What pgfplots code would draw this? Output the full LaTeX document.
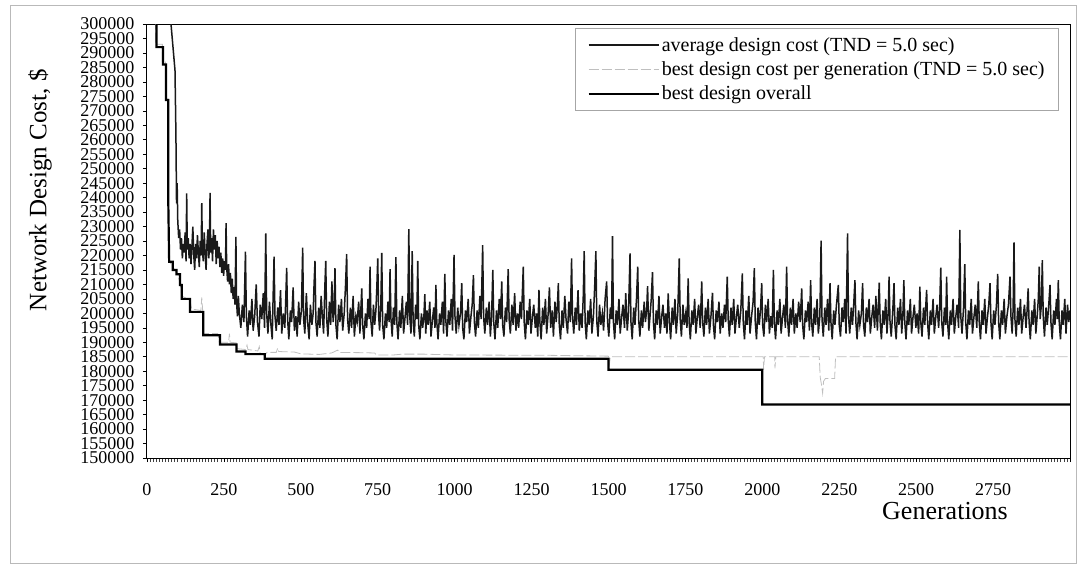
\documentclass[border=0pt]{standalone}
\usepackage{fontspec}
\setmainfont{Liberation Serif}
\usepackage{pgfplots}
\pgfplotsset{compat=1.18}
\begin{document}
\begin{tikzpicture}
\path (-147pt,-108pt) rectangle (930pt,458pt);
\draw[gray!55, line width=0.8pt] (-137pt,-105pt) rectangle (929pt,453pt);
\begin{axis}[
  at={(0,0)}, anchor=south west,
  scale only axis, width=923pt, height=434pt,
  xmin=0, xmax=3000, ymin=150000, ymax=300000,
  xtick={0,250,500,750,1000,1250,1500,1750,2000,2250,2500,2750,3000},
  xticklabels={0,250,500,750,1000,1250,1500,1750,2000,2250,2500,2750,{}},
  minor x tick num=24,
  ytick distance=5000,
  scaled y ticks=false, scaled x ticks=false,
  tick align=outside,
  major tick length=4pt, minor tick length=4pt,
  major tick style={black, line width=0.6pt},
  minor tick style={black!75, line width=0.6pt},
  xtick pos=bottom, ytick pos=left,
  axis line style={black, line width=1pt},
  /pgf/number format/.cd, fixed, 1000 sep={}, assume math mode=true,
  /pgfplots/.cd,
  tick label style={font=\fontsize{18}{18}\selectfont},
  xticklabel style={yshift=-18pt},
  yticklabel style={xshift=-5pt},
  xlabel={Generations},
  ylabel={Network Design Cost, \$},
  xlabel style={at={(rel axis cs:0.8646,-0.122)}, anchor=center, font=\fontsize{26}{26}\selectfont},
  ylabel style={at={(rel axis cs:-0.116,0.617)}, anchor=center, rotate=0, font=\fontsize{25}{25}\selectfont},
  legend style={at={(0.988,0.991)}, anchor=north east, draw=gray!70, line width=0.6pt,
    font=\fontsize{20}{22}\selectfont, inner xsep=12pt, inner ysep=7pt, row sep=5pt},
  legend cell align=left,
  legend image code/.code={\draw[#1] (0pt,0pt) -- (70pt,0pt);},
]
\addplot[black!90, line width=1.5pt] coordinates {
(0,330000)(68,330000)(78,300000)(91,284000)(94,262000)(96,238000)(98,245000)(100,232000)(103,226000)(106,229000)(109,222000)(112,226000)(115,219000)(118,224000)(121,221000)(124,228000)(127,218000)(129,241500)(131,222000)(134,226000)(137,219000)(140,224000)(143,217000)(146,223000)(149,230000)(152,220000)(155,215000)(158,224000)(161,219000)(164,227000)(167,221000)(170,216000)(173,225000)(176,220000)(178,238100)(180,222000)(183,218000)(186,228000)(189,221000)(192,215000)(195,224000)(198,229000)(201,219000)(203,224000)(205,241600)(207,221000)(210,226000)(213,218000)(216,229000)(219,222000)(222,227000)(225,217000)(228,225000)(231,219000)(234,223000)(237,216000)(240,221000)(243,214000)(246,219000)(249,213000)(252,218000)(255,215000)(257,231200)(259,216000)(262,211000)(265,217000)(268,210000)(271,214000)(274,207000)(277,212000)(280,205000)(283,209000)(286,203000)(289,226400)(291,204000)(294,199000)(297,206000)
(300,200000)(305,195000)(310,203000)(315,197000)(320,221300)(323,199000)(327,192000)(332,201000)(336,196000)(341,205000)(345,194000)(350,199000)(355,210000)(359,197000)(364,192000)(368,203000)(373,198000)(378,207000)(382,195000)(386,227600)(389,200000)(393,193000)(398,204000)(402,197000)(407,191000)(410,206000)(413,219600)(416,199000)(420,194000)(425,202000)(429,196000)(434,208000)(438,193000)(443,200000)(448,195000)(451,205000)(454,215700)(457,198000)(461,191000)(466,201000)(470,197000)(475,209000)(479,194000)(484,199000)(488,192000)(493,204000)(497,196000)
(502,201000)(506,222700)(509,198000)(513,193000)(518,207000)(522,197000)(527,191000)(531,203000)(536,196000)(540,200000)(543,210000)(546,218100)(549,197000)(553,192000)(558,202000)(562,195000)(566,206000)(570,199000)(574,193000)(578,209000)(581,218100)(584,198000)(588,192000)(593,204000)(597,196000)(601,211000)(605,197000)(608,201000)(611,215600)(614,196000)(618,191000)(623,203000)(627,197000)(632,205000)(636,194000)(641,200000)(645,209000)(649,220500)(652,198000)(656,193000)(661,202000)(665,195000)(670,206000)(674,192000)(679,199000)(683,197000)(688,204000)(692,193000)(695,201000)(698,208600)
(701,196000)(705,191000)(710,200000)(714,195000)(718,205000)(722,198000)(725,216100)(728,197000)(732,192000)(736,203000)(740,196000)(744,201000)(747,209000)(750,219000)(753,199000)(756,194000)(760,203000)(763,220900)(766,196000)(770,191000)(775,200000)(779,195000)(783,204000)(787,197000)(790,215300)(793,198000)(797,192000)(801,202000)(805,196000)(809,219400)(812,197000)(816,191000)(821,201000)(825,195000)(830,206000)(834,193000)(839,199000)(843,204000)(847,196000)(851,229100)(854,199000)(858,193000)(862,221500)(865,197000)(869,192000)(873,203000)(877,198000)(880,218100)(883,196000)(887,191000)(892,200000)(896,195000)(900,199000)
(903,206600)(906,193000)(910,201000)(914,196000)(919,204000)(923,192000)(928,198000)(932,202000)(936,195000)(939,209800)(942,197000)(946,191000)(951,200000)(955,196000)(960,204000)(964,193000)(968,213600)(971,198000)(975,192000)(980,201000)(984,196000)(989,205000)(993,194000)(998,220200)(1001,199000)(1005,193000)(1010,202000)(1014,196000)(1019,200000)(1023,210400)(1026,195000)(1030,191000)(1035,201000)(1039,197000)(1044,205000)(1048,193000)(1053,199000)(1057,203000)(1061,213200)(1064,197000)(1068,192000)(1073,201000)(1077,195000)(1082,206000)(1086,198000)(1091,223600)(1094,199000)(1098,193000)
(1103,202000)(1107,196000)(1112,204000)(1116,192000)(1120,199000)(1124,215000)(1127,197000)(1131,191000)(1136,201000)(1140,195000)(1145,205000)(1149,198000)(1153,211000)(1156,196000)(1160,192000)(1165,202000)(1169,197000)(1174,215300)(1177,198000)(1181,193000)(1186,203000)(1190,196000)(1195,207000)(1199,194000)(1204,200000)(1208,195000)(1213,204000)(1217,198000)(1223,216100)(1226,197000)(1230,191000)(1235,201000)(1239,196000)(1244,205000)(1248,193000)(1253,199000)(1257,203000)(1262,195000)(1266,200000)(1270,192000)(1274,208100)(1277,197000)(1281,191000)(1286,202000)(1290,196000)(1295,205000)(1299,193000)
(1304,200000)(1308,209000)(1312,195000)(1317,201000)(1321,192000)(1326,204000)(1330,197000)(1334,203000)(1337,210400)(1340,196000)(1344,191000)(1349,201000)(1353,195000)(1358,206000)(1362,198000)(1367,193000)(1371,204000)(1376,197000)(1380,219000)(1383,199000)(1387,193000)(1392,202000)(1396,196000)(1401,208000)(1405,194000)(1410,200000)(1414,195000)(1418,206000)(1421,221500)(1424,197000)(1428,191000)(1433,201000)(1437,196000)(1442,205000)(1446,193000)(1451,199000)(1455,209000)(1459,221500)(1462,197000)(1466,192000)(1471,203000)(1475,196000)(1480,200000)(1484,194000)(1489,205000)(1494,211000)(1497,197000)
(1501,192000)(1506,202000)(1510,198000)(1513,226700)(1516,197000)(1520,191000)(1525,201000)(1529,196000)(1534,205000)(1538,193000)(1543,199000)(1547,203000)(1552,195000)(1556,207000)(1561,194000)(1565,200000)(1570,220700)(1573,197000)(1577,191000)(1582,202000)(1586,196000)(1591,205000)(1595,216100)(1598,198000)(1602,192000)(1607,201000)(1611,195000)(1616,204000)(1620,197000)(1624,201000)(1627,209400)(1631,194000)(1635,199000)(1639,205000)(1643,214200)(1646,197000)(1650,191000)(1655,201000)(1659,196000)(1664,206000)(1668,193000)(1673,199000)(1677,203000)(1682,195000)(1686,200000)(1690,193000)(1694,206900)(1698,197000)
(1702,191000)(1707,202000)(1711,196000)(1716,205000)(1720,193000)(1725,200000)(1730,219000)(1733,198000)(1737,192000)(1742,203000)(1746,196000)(1751,200000)(1755,195000)(1759,212100)(1762,197000)(1766,191000)(1771,201000)(1775,196000)(1780,205000)(1784,193000)(1789,199000)(1793,203000)(1798,195000)(1803,211000)(1806,197000)(1810,192000)(1815,202000)(1819,196000)(1824,205000)(1828,193000)(1833,199000)(1838,207100)(1841,196000)(1845,191000)(1850,201000)(1854,197000)(1859,204000)(1863,193000)(1868,200000)(1872,195000)(1877,203000)(1881,197000)(1886,212700)(1889,198000)(1893,192000)(1898,202000)
(1902,196000)(1907,205000)(1911,193000)(1916,199000)(1920,203000)(1925,195000)(1930,201000)(1935,213800)(1938,197000)(1942,191000)(1947,201000)(1951,196000)(1956,206000)(1960,193000)(1965,199000)(1970,204000)(1974,215600)(1977,197000)(1981,191000)(1986,202000)(1990,196000)(1994,201000)(1998,210400)(2001,196000)(2005,192000)(2010,203000)(2014,197000)(2019,205000)(2023,193000)(2028,199000)(2032,195000)(2036,215000)(2039,197000)(2043,191000)(2048,201000)(2052,196000)(2057,205000)(2061,193000)(2066,199000)(2070,203000)(2075,195000)(2079,216100)(2082,198000)(2086,192000)(2091,202000)(2095,196000)
(2100,205000)(2104,193000)(2109,200000)(2113,195000)(2118,204000)(2123,197000)(2128,208600)(2131,196000)(2135,191000)(2140,201000)(2144,197000)(2149,204000)(2153,194000)(2157,211500)(2160,197000)(2164,192000)(2169,202000)(2173,196000)(2178,205000)(2182,193000)(2187,199000)(2191,225100)(2194,198000)(2198,192000)(2203,202000)(2207,196000)(2212,205000)(2216,194000)(2220,210400)(2223,197000)(2227,191000)(2232,201000)(2236,196000)(2241,203000)(2247,209800)(2250,196000)(2254,192000)(2259,202000)(2263,197000)(2268,205000)(2272,193000)(2277,227600)(2280,199000)(2284,193000)(2289,202000)(2293,196000)(2297,203000)
(2301,211500)(2304,197000)(2308,191000)(2313,201000)(2317,196000)(2322,200000)(2326,210400)(2329,196000)(2333,192000)(2338,202000)(2342,197000)(2347,205000)(2351,193000)(2356,199000)(2360,203000)(2365,195000)(2369,206000)(2374,194000)(2380,210600)(2383,197000)(2387,191000)(2392,201000)(2396,196000)(2401,205000)(2405,193000)(2409,200000)(2412,212700)(2415,197000)(2419,192000)(2424,201000)(2428,210400)(2431,196000)(2435,191000)(2440,202000)(2444,196000)(2449,205000)(2453,193000)(2457,200000)(2460,211500)(2463,197000)(2467,191000)(2472,201000)(2476,196000)(2481,205000)(2485,193000)(2490,199000)(2494,203000)(2499,195000)
(2503,200000)(2508,193000)(2512,209200)(2515,197000)(2519,192000)(2524,202000)(2528,196000)(2534,208100)(2537,197000)(2541,191000)(2546,201000)(2550,196000)(2555,205000)(2559,193000)(2564,199000)(2568,203000)(2573,195000)(2576,201000)(2580,215800)(2583,197000)(2587,192000)(2592,202000)(2596,196000)(2599,212700)(2602,197000)(2606,191000)(2611,201000)(2615,196000)(2620,205000)(2624,193000)(2629,199000)(2633,203000)(2638,195000)(2642,228800)(2645,199000)(2649,193000)(2654,202000)(2658,217000)(2661,197000)(2665,191000)(2670,201000)(2674,196000)(2679,205000)(2683,193000)(2688,199000)(2692,203000)(2697,195000)
(2702,211000)(2705,197000)(2709,191000)(2714,201000)(2718,196000)(2723,205000)(2727,193000)(2732,199000)(2736,203000)(2740,210400)(2743,197000)(2747,191000)(2752,201000)(2756,196000)(2761,203000)(2765,213600)(2768,197000)(2772,191000)(2777,201000)(2781,196000)(2786,205000)(2790,193000)(2795,199000)(2800,203000)(2805,212700)(2808,199000)(2812,193000)(2815,201000)(2818,224500)(2821,198000)(2825,192000)(2830,202000)(2834,196000)(2839,205000)(2843,193000)(2848,199000)(2852,203000)(2857,195000)(2860,200000)(2864,208600)(2867,197000)(2871,191000)(2876,201000)(2880,196000)(2885,205000)(2889,193000)(2894,200000)(2897,205000)
(2900,216100)(2903,198000)(2907,203000)(2910,218400)(2913,199000)(2917,192000)(2922,202000)(2926,196000)(2931,203000)(2935,209800)(2938,197000)(2942,191000)(2947,201000)(2951,196000)(2956,205000)(2959,198000)(2962,211500)(2965,197000)(2969,191000)(2974,201000)(2978,196000)(2983,205000)(2987,193000)(2992,203000)(2996,197000)(3000,201000)
};
\addlegendentry{average design cost (TND = 5.0 sec)}
\addplot[gray!50, line width=0.8pt, dash pattern=on 10pt off 3pt] coordinates {
(0,330000)(28,330000)(28,293000)(50,293000)(50,287000)(60,287000)(60,275000)(68,275000)(68,240000)(74,218000)(80,216500)(95,214500)(108,210500)(113,206000)(140,204500)(145,201500)(175,201000)(178,205500)(181,201000)(183,193000)(230,193000)(235,190000)(265,190000)(268,193000)(270,190000)(290,189800)(292,187800)(320,187500)(325,189000)(328,187500)(360,187000)(365,188500)(368,186000)(385,185800)(390,186500)(420,186500)(425,188000)(428,186800)(480,186600)(500,186000)(560,185800)(600,186300)(620,187300)(625,186500)(700,186400)(740,186300)(745,185600)(800,185600)(830,185900)(900,185900)(1000,185600)(1300,185500)(1500,185200)(1503,182500)(1506,185000)(2003,185000)(2004,180500)(2007,185000)(2040,185000)(2041,181000)(2044,185000)(2185,185000)(2188,178000)(2192,175500)(2196,172400)(2199,176500)(2205,177500)(2235,177500)(2238,185000)(3000,185000)
};
\addlegendentry{best design cost per generation (TND = 5.0 sec)}
\addplot[black, line width=2.2pt] coordinates {
(0,330000)(31,330000)(31,292000)(52,292000)(52,286000)(62,286000)(62,273700)(69,273700)(69,240000)(72,217800)(84,217800)(84,215000)(96,215000)(96,213500)(107,213500)(107,209800)(113,209800)(113,205000)(140,205000)(140,200500)(183,200500)(183,192400)(237,192400)(237,189200)(291,189200)(291,186800)(320,186800)(320,185900)(383,185900)(383,184300)(1500,184300)(1500,180500)(2000,180500)(2000,168500)(3000,168500)
};
\addlegendentry{best design overall}
\end{axis}
\end{tikzpicture}
\end{document}
